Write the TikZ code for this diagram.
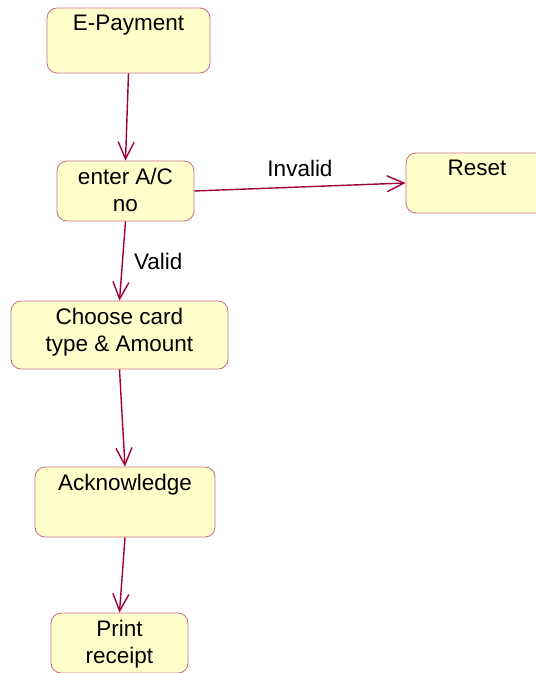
\documentclass[tikz,border=0pt]{standalone}
\usepackage{fontspec}
\setmainfont{Liberation Sans}
\usetikzlibrary{arrows.meta}

\definecolor{statefill}{HTML}{FFFFCC}
\definecolor{stateline}{HTML}{CC7088}
\definecolor{flowline}{HTML}{A0003C}

\tikzset{
    state/.style={rectangle, rounded corners=0.2cm, draw=stateline, fill=statefill, line width=0.5pt, inner sep=0pt},
    statetext/.style={label={[anchor=north, yshift=-0.14cm, align=center, inner sep=0pt, font=\fontsize{12.8}{15.4}\selectfont]north:#1}},
    flow/.style={flowline, line width=0.8pt, -{Straight Barb[length=3.4mm, width=3.2mm]}},
    flowtext/.style={text=black, font=\fontsize{12.8}{15.4}\selectfont}
}

\begin{document}
\begin{tikzpicture}[scale=1]
    \useasboundingbox (0, 0) rectangle (10.7, -13.46);

    \node[state, minimum width=3.26cm, minimum height=1.3cm, statetext={E-Payment}] (epay) at (2.57, -0.81) {};
    \node[state, minimum width=2.74cm, minimum height=1.2cm, statetext={enter A/C\\no}] (acno) at (2.51, -3.82) {};
    \node[state, minimum width=2.84cm, minimum height=1.2cm, statetext={Reset}] (reset) at (9.54, -3.66) {};
    \node[state, minimum width=4.34cm, minimum height=1.36cm, statetext={Choose card\\type \& Amount}] (choose) at (2.39, -6.7) {};
    \node[state, minimum width=3.6cm, minimum height=1.4cm, statetext={Acknowledge}] (ack) at (2.5, -10.04) {};
    \node[state, minimum width=2.74cm, minimum height=1.2cm, statetext={Print\\receipt}] (print) at (2.39, -12.86) {};

    \draw[flow] (epay.south) -- (acno.north);
    \draw[flow] (acno.east) -- (reset.west) node [flowtext, midway, above, yshift=0.08cm] {Invalid};
    \draw[flow] (acno.south) -- (choose.north) node [flowtext, midway, right, xshift=0.1cm] {Valid};
    \draw[flow] (choose.south) -- (ack.north);
    \draw[flow] (ack.south) -- (print.north);

\end{tikzpicture}
\end{document}
